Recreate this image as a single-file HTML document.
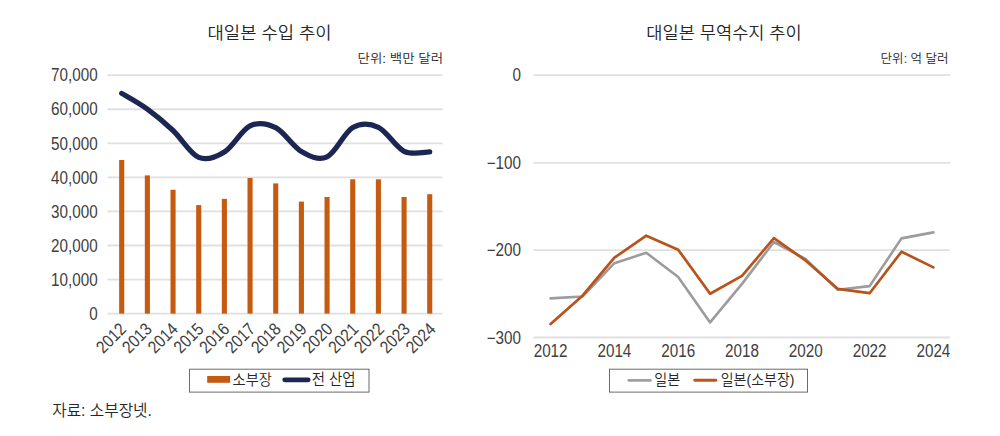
<!DOCTYPE html>
<html><head><meta charset="utf-8"><title>대일본 수입 추이 / 무역수지 추이</title>
<style>
html,body{margin:0;padding:0;background:#fff;}
body{width:1000px;height:436px;overflow:hidden;}
svg{display:block;}
.num{font-family:'Liberation Sans', 'Noto Sans CJK KR', sans-serif;font-size:17.5px;fill:#404040;}
.title{font-family:'Liberation Sans', 'Noto Sans CJK KR', sans-serif;font-size:18px;fill:#262626;font-weight:350;}
.unit{font-family:'Liberation Sans', 'Noto Sans CJK KR', sans-serif;font-size:14px;fill:#262626;font-weight:350;}
.leg{font-family:'Liberation Sans', 'Noto Sans CJK KR', sans-serif;font-size:16px;fill:#262626;font-weight:350;}
.src{font-family:'Liberation Sans', 'Noto Sans CJK KR', sans-serif;font-size:17px;fill:#262626;font-weight:350;}
</style></head><body>
<svg width="1000" height="436" viewBox="0 0 1000 436">
<rect width="1000" height="436" fill="#fff"/>
<line x1="107.5" y1="75.20" x2="442.5" y2="75.20" stroke="#e0e0e0" stroke-width="1.8"/>
<line x1="107.5" y1="109.26" x2="442.5" y2="109.26" stroke="#e0e0e0" stroke-width="1.8"/>
<line x1="107.5" y1="143.32" x2="442.5" y2="143.32" stroke="#e0e0e0" stroke-width="1.8"/>
<line x1="107.5" y1="177.38" x2="442.5" y2="177.38" stroke="#e0e0e0" stroke-width="1.8"/>
<line x1="107.5" y1="211.44" x2="442.5" y2="211.44" stroke="#e0e0e0" stroke-width="1.8"/>
<line x1="107.5" y1="245.50" x2="442.5" y2="245.50" stroke="#e0e0e0" stroke-width="1.8"/>
<line x1="107.5" y1="279.56" x2="442.5" y2="279.56" stroke="#e0e0e0" stroke-width="1.8"/>
<line x1="107.5" y1="313.62" x2="442.5" y2="313.62" stroke="#e0e0e0" stroke-width="1.8"/>
<text transform="translate(97.6,81.40) scale(0.87,1)" class="num" text-anchor="end">70,000</text>
<text transform="translate(97.6,115.46) scale(0.87,1)" class="num" text-anchor="end">60,000</text>
<text transform="translate(97.6,149.52) scale(0.87,1)" class="num" text-anchor="end">50,000</text>
<text transform="translate(97.6,183.58) scale(0.87,1)" class="num" text-anchor="end">40,000</text>
<text transform="translate(97.6,217.64) scale(0.87,1)" class="num" text-anchor="end">30,000</text>
<text transform="translate(97.6,251.70) scale(0.87,1)" class="num" text-anchor="end">20,000</text>
<text transform="translate(97.6,285.76) scale(0.87,1)" class="num" text-anchor="end">10,000</text>
<text transform="translate(97.6,319.82) scale(0.87,1)" class="num" text-anchor="end">0</text>
<rect x="119.15" y="160.00" width="5.1" height="153.62" fill="#C55A11"/>
<rect x="144.82" y="175.40" width="5.1" height="138.22" fill="#C55A11"/>
<rect x="170.49" y="189.80" width="5.1" height="123.82" fill="#C55A11"/>
<rect x="196.16" y="205.10" width="5.1" height="108.52" fill="#C55A11"/>
<rect x="221.83" y="198.90" width="5.1" height="114.72" fill="#C55A11"/>
<rect x="247.50" y="178.00" width="5.1" height="135.62" fill="#C55A11"/>
<rect x="273.17" y="183.40" width="5.1" height="130.22" fill="#C55A11"/>
<rect x="298.84" y="201.60" width="5.1" height="112.02" fill="#C55A11"/>
<rect x="324.51" y="197.00" width="5.1" height="116.62" fill="#C55A11"/>
<rect x="350.18" y="179.30" width="5.1" height="134.32" fill="#C55A11"/>
<rect x="375.85" y="179.30" width="5.1" height="134.32" fill="#C55A11"/>
<rect x="401.52" y="197.00" width="5.1" height="116.62" fill="#C55A11"/>
<rect x="427.19" y="194.20" width="5.1" height="119.42" fill="#C55A11"/>
<path d="M121.70,93.40 C125.98,96.03 138.81,102.98 147.37,109.16 C155.93,115.34 164.48,122.44 173.04,130.49 C181.60,138.53 190.15,153.86 198.71,157.44 C207.27,161.02 215.82,157.21 224.38,151.95 C232.94,146.68 241.49,129.92 250.05,125.86 C258.61,121.81 267.16,123.36 275.72,127.64 C284.28,131.92 292.83,146.69 301.39,151.56 C309.95,156.43 318.50,160.87 327.06,156.87 C335.62,152.86 344.17,132.44 352.73,127.51 C361.29,122.58 369.84,123.31 378.40,127.27 C386.96,131.23 395.51,147.19 404.07,151.28 C412.63,155.38 425.46,151.74 429.74,151.84" fill="none" stroke="#1C2652" stroke-width="5.2" stroke-linecap="round" stroke-linejoin="round"/>
<text transform="translate(127.30,330.30) rotate(-45) scale(0.87,1)" class="num" text-anchor="end">2012</text>
<text transform="translate(153.09,330.30) rotate(-45) scale(0.87,1)" class="num" text-anchor="end">2013</text>
<text transform="translate(178.89,330.30) rotate(-45) scale(0.87,1)" class="num" text-anchor="end">2014</text>
<text transform="translate(204.69,330.30) rotate(-45) scale(0.87,1)" class="num" text-anchor="end">2015</text>
<text transform="translate(230.48,330.30) rotate(-45) scale(0.87,1)" class="num" text-anchor="end">2016</text>
<text transform="translate(256.27,330.30) rotate(-45) scale(0.87,1)" class="num" text-anchor="end">2017</text>
<text transform="translate(282.07,330.30) rotate(-45) scale(0.87,1)" class="num" text-anchor="end">2018</text>
<text transform="translate(307.86,330.30) rotate(-45) scale(0.87,1)" class="num" text-anchor="end">2019</text>
<text transform="translate(333.66,330.30) rotate(-45) scale(0.87,1)" class="num" text-anchor="end">2020</text>
<text transform="translate(359.45,330.30) rotate(-45) scale(0.87,1)" class="num" text-anchor="end">2021</text>
<text transform="translate(385.25,330.30) rotate(-45) scale(0.87,1)" class="num" text-anchor="end">2022</text>
<text transform="translate(411.04,330.30) rotate(-45) scale(0.87,1)" class="num" text-anchor="end">2023</text>
<text transform="translate(436.84,330.30) rotate(-45) scale(0.87,1)" class="num" text-anchor="end">2024</text>
<rect x="189.5" y="369.2" width="179.5" height="22.9" fill="#fff" stroke="#6b6b6b" stroke-width="1"/>
<rect x="207.2" y="376" width="22.9" height="6.8" fill="#C55A11"/>
<line x1="284.7" y1="379.8" x2="308.2" y2="379.8" stroke="#1C2652" stroke-width="4.8" stroke-linecap="round"/>
<line x1="533.5" y1="75.20" x2="950" y2="75.20" stroke="#e0e0e0" stroke-width="1.8"/>
<line x1="533.5" y1="162.80" x2="950" y2="162.80" stroke="#e0e0e0" stroke-width="1.8"/>
<line x1="533.5" y1="250.20" x2="950" y2="250.20" stroke="#e0e0e0" stroke-width="1.8"/>
<line x1="533.5" y1="337.50" x2="950" y2="337.50" stroke="#e0e0e0" stroke-width="1.8"/>
<text transform="translate(521,81.40) scale(0.87,1)" class="num" text-anchor="end">0</text>
<text transform="translate(521,169.00) scale(0.87,1)" class="num" text-anchor="end">−100</text>
<text transform="translate(521,256.40) scale(0.87,1)" class="num" text-anchor="end">−200</text>
<text transform="translate(521,343.70) scale(0.87,1)" class="num" text-anchor="end">−300</text>
<polyline points="550.60,298.40 582.50,296.50 614.40,263.20 646.30,252.80 678.20,277.00 710.10,322.40 742.00,283.90 773.90,242.00 805.80,259.10 837.70,289.70 869.60,286.10 901.50,238.40 933.40,232.40" fill="none" stroke="#9C9C9C" stroke-width="2.6" stroke-linejoin="round" stroke-linecap="round"/>
<polyline points="550.60,324.00 582.50,295.70 614.40,257.70 646.30,235.70 678.20,249.70 710.10,293.80 742.00,275.90 773.90,238.20 805.80,260.70 837.70,288.80 869.60,293.20 901.50,251.70 933.40,267.40" fill="none" stroke="#B9531A" stroke-width="2.7" stroke-linejoin="round" stroke-linecap="round"/>
<text transform="translate(550.60,356.8) scale(0.87,1)" class="num" text-anchor="middle">2012</text>
<text transform="translate(614.40,356.8) scale(0.87,1)" class="num" text-anchor="middle">2014</text>
<text transform="translate(678.20,356.8) scale(0.87,1)" class="num" text-anchor="middle">2016</text>
<text transform="translate(742.00,356.8) scale(0.87,1)" class="num" text-anchor="middle">2018</text>
<text transform="translate(805.80,356.8) scale(0.87,1)" class="num" text-anchor="middle">2020</text>
<text transform="translate(869.60,356.8) scale(0.87,1)" class="num" text-anchor="middle">2022</text>
<text transform="translate(933.40,356.8) scale(0.87,1)" class="num" text-anchor="middle">2024</text>
<rect x="609.5" y="369.2" width="198" height="22.9" fill="#fff" stroke="#6b6b6b" stroke-width="1"/>
<line x1="628.8" y1="380.3" x2="650.4" y2="380.3" stroke="#9F9F9F" stroke-width="2.7" stroke-linecap="round"/>
<line x1="694.8" y1="380.3" x2="715.8" y2="380.3" stroke="#BE5517" stroke-width="2.9" stroke-linecap="round"/>
<text id="ltitle" x="0" y="0" transform="matrix(0.9860,0,0,0.9556,207.528,38.989)" class="title">대일본 수입 추이</text>
<text id="rtitle" x="0" y="0" transform="matrix(0.9774,0,0,0.9765,646.345,38.847)" class="title">대일본 무역수지 추이</text>
<text id="lunit" x="0" y="0" transform="matrix(0.9616,0,0,0.8929,357.538,63.214)" class="unit">단위: 백만 달러</text>
<text id="runit" x="0" y="0" transform="matrix(0.8945,0,0,0.8929,880.605,63.214)" class="unit">단위: 억 달러</text>
<text id="leg1" x="0" y="0" transform="matrix(0.8930,0,0,0.8933,232.507,384.813)" class="leg">소부장</text>
<text id="leg2" x="0" y="0" transform="matrix(0.9022,0,0,0.9600,311.698,385.280)" class="leg">전 산업</text>
<text id="leg3" x="0" y="0" transform="matrix(0.8821,0,0,0.9333,654.218,385.133)" class="leg">일본</text>
<text id="leg4" x="0" y="0" transform="matrix(0.8756,0,0,0.9500,720.724,385.150)" class="leg">일본(소부장)</text>
<text id="src" x="0" y="0" transform="matrix(0.9219,0,0,0.9625,52.278,415.875)" class="src">자료: 소부장넷.</text>
</svg>
</body></html>
